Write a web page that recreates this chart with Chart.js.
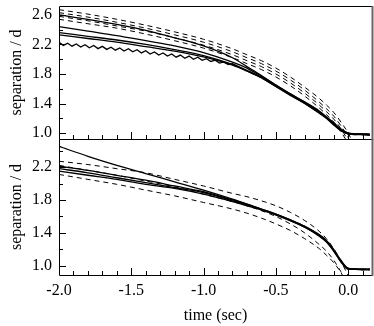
<!DOCTYPE html>
<html>
<head>
<meta charset="utf-8">
<script src="https://cdn.jsdelivr.net/npm/chart.js@4.4.1/dist/chart.umd.min.js"></script>
<style>
  html, body { margin: 0; padding: 0; background: #fff; }
  #wrap { position: relative; width: 374px; height: 326px; }
  #wrap canvas { position: absolute; left: 0; top: 0; }
</style>
</head>
<body>
<div id="wrap">
  <canvas id="topChart" width="374" height="326"></canvas>
  <canvas id="bottomChart" width="374" height="326"></canvas>
</div>
<script>
// common time grid (sec)
const T = [-2.0, -1.8, -1.6, -1.4, -1.2, -1.0, -0.8, -0.7, -0.6, -0.5, -0.4, -0.3, -0.2, -0.15, -0.1, -0.05, 0.0, 0.05, 0.1, 0.15];

// top panel, measured (solid)
const topS1 = [2.60, 2.54, 2.47, 2.39, 2.29, 2.18, 2.02, 1.90, 1.78, 1.65, 1.53, 1.42, 1.29, 1.21, 1.13, 1.05, 1.00, 0.99, 0.99, 0.98];
const topS2 = [2.44, 2.38, 2.32, 2.25, 2.18, 2.09, 1.96, 1.88, 1.77, 1.65, 1.53, 1.42, 1.30, 1.22, 1.14, 1.05, 1.00, 0.99, 0.98, 0.99];
const topS3 = [2.36, 2.31, 2.26, 2.20, 2.13, 2.05, 1.93, 1.85, 1.76, 1.64, 1.52, 1.41, 1.28, 1.20, 1.12, 1.04, 0.99, 0.99, 0.98, 0.98];
const topS4 = [2.33, 2.28, 2.23, 2.17, 2.11, 2.03, 1.92, 1.84, 1.75, 1.63, 1.52, 1.40, 1.28, 1.21, 1.12, 1.04, 0.99, 0.98, 0.99, 0.98];
// the wavy lower trace
const zigTime = [-2.00, -1.97, -1.94, -1.91, -1.88, -1.85, -1.82, -1.79, -1.76, -1.73, -1.70, -1.67, -1.64, -1.61, -1.58, -1.55, -1.52, -1.49, -1.46, -1.43, -1.40,
  -1.37, -1.34, -1.31, -1.28, -1.25, -1.22, -1.19, -1.16, -1.13, -1.10, -1.07, -1.04, -1.01, -0.98, -0.95, -0.92, -0.89, -0.86, -0.83, -0.80,
  -0.7, -0.6, -0.5, -0.4, -0.3, -0.2, -0.15, -0.1, -0.05, 0.0, 0.05, 0.1, 0.15];
const zigValues = [2.228, 2.187, 2.217, 2.176, 2.206, 2.165, 2.196, 2.154, 2.185, 2.143, 2.174, 2.133, 2.163, 2.122, 2.152, 2.111, 2.142, 2.100, 2.128, 2.085, 2.114,
  2.070, 2.099, 2.056, 2.085, 2.042, 2.070, 2.027, 2.056, 2.013, 2.042, 1.999, 2.027, 1.984, 2.008, 1.969, 1.987, 1.948, 1.964, 1.929, 1.941,
  1.84, 1.75, 1.63, 1.51, 1.40, 1.27, 1.20, 1.11, 1.03, 0.99, 0.98, 0.98, 0.97];

// top panel, model (dashed)
const topD1 = [2.67, 2.61, 2.54, 2.46, 2.37, 2.27, 2.14, 2.06, 1.98, 1.88, 1.76, 1.62, 1.47, 1.38, 1.28, 1.15, 1.00, 0.80, null, null];
const topD2 = [2.63, 2.57, 2.50, 2.42, 2.33, 2.23, 2.10, 2.02, 1.94, 1.84, 1.72, 1.58, 1.42, 1.33, 1.23, 1.10, 0.94, 0.75, null, null];
const topD3 = [2.58, 2.52, 2.45, 2.38, 2.29, 2.19, 2.06, 1.98, 1.90, 1.80, 1.68, 1.54, 1.38, 1.29, 1.19, 1.06, 0.90, null, null, null];
const topD4 = [2.54, 2.48, 2.42, 2.34, 2.25, 2.15, 2.02, 1.94, 1.86, 1.76, 1.64, 1.50, 1.34, 1.25, 1.15, 1.02, 0.86, null, null, null];

// bottom panel, measured (solid)
const botS1 = [2.45, 2.33, 2.22, 2.12, 2.02, 1.92, 1.81, 1.75, 1.69, 1.63, 1.56, 1.48, 1.38, 1.31, 1.20, 1.07, 0.97, 0.96, 0.96, 0.96];
const botS2 = [2.21, 2.16, 2.10, 2.04, 1.97, 1.90, 1.80, 1.75, 1.69, 1.63, 1.56, 1.48, 1.37, 1.30, 1.19, 1.06, 0.97, 0.96, 0.96, 0.95];
const botS3 = [2.18, 2.13, 2.07, 2.01, 1.95, 1.89, 1.79, 1.74, 1.68, 1.62, 1.55, 1.47, 1.37, 1.30, 1.19, 1.05, 0.97, 0.96, 0.96, 0.96];
const botS4 = [2.15, 2.10, 2.05, 1.99, 1.94, 1.87, 1.78, 1.73, 1.68, 1.62, 1.55, 1.47, 1.36, 1.29, 1.18, 1.05, 0.96, 0.96, 0.95, 0.96];

// bottom panel, model (dashed)
const botD1 = [2.27, 2.23, 2.18, 2.13, 2.05, 1.97, 1.88, 1.84, 1.79, 1.73, 1.65, 1.55, 1.42, 1.33, 1.21, 1.06, 0.88, null, null, null];
const botD2 = [2.22, 2.16, 2.10, 2.03, 1.96, 1.87, 1.78, 1.73, 1.67, 1.60, 1.51, 1.40, 1.26, 1.18, 1.07, 0.93, 0.78, null, null, null];
const botD3 = [2.11, 2.05, 1.99, 1.92, 1.85, 1.77, 1.69, 1.64, 1.58, 1.51, 1.43, 1.33, 1.21, 1.13, 1.04, 0.92, 0.76, null, null, null];

// ticks
const xTicks = [-2.0, -1.5, -1.0, -0.5, 0.0];
const xMinorTicks = [-1.9, -1.8, -1.7, -1.6, -1.4, -1.3, -1.2, -1.1, -0.9, -0.8, -0.7, -0.6, -0.4, -0.3, -0.2, -0.1, 0.1];
const topYTicks = [1.0, 1.4, 1.8, 2.2, 2.6];
const topYMinor = [1.2, 1.6, 2.0, 2.4];
const botYTicks = [1.0, 1.4, 1.8, 2.2];
const botYMinor = [1.2, 1.6, 2.0, 2.4];

const serif = { family: '"Liberation Serif", "DejaVu Serif", serif', size: 16 };

function line(times, values, dashed) {
    return {
        data: times.map((t, i) => ({ x: t, y: values[i] })),
        borderColor: '#000',
        borderWidth: dashed ? 1 : 1.3,
        borderDash: dashed ? [5, 4] : [],
        pointRadius: 0,
        cubicInterpolationMode: 'monotone',
        fill: false
    };
}

// inward ticks and box around each panel
const framePlugin = {
    id: 'frame',
    afterDraw(chart, args, opts) {
        const ctx = chart.ctx;
        const a = chart.chartArea;
        const xs = chart.scales.x, ys = chart.scales.y;
        ctx.save();
        ctx.strokeStyle = '#000';
        ctx.lineWidth = 1;
        ctx.beginPath();
        const xTick = (v, len) => {
            const px = Math.round(xs.getPixelForValue(v)) + 0.5;
            ctx.moveTo(px, a.bottom);
            ctx.lineTo(px, a.bottom - len);
        };
        const yTick = (v, len) => {
            const py = Math.round(ys.getPixelForValue(v)) + 0.5;
            ctx.moveTo(a.left, py);
            ctx.lineTo(a.left + len, py);
        };
        xTicks.forEach(v => xTick(v, 7));
        xMinorTicks.forEach(v => xTick(v, 4));
        opts.yMajor.forEach(v => yTick(v, 7));
        opts.yMinor.forEach(v => { if (v > ys.min && v < ys.max) yTick(v, 4); });
        ctx.stroke();

        ctx.beginPath();
        ctx.moveTo(a.right, a.top + 0.5);
        ctx.lineTo(a.left + 0.5, a.top + 0.5);
        ctx.lineTo(a.left + 0.5, a.bottom + 0.5);
        ctx.lineTo(a.right, a.bottom + 0.5);
        ctx.stroke();

        ctx.strokeStyle = '#666';
        ctx.lineWidth = 2;
        ctx.beginPath();
        ctx.moveTo(a.right + 0.5, a.top);
        ctx.lineTo(a.right + 0.5, a.bottom + 1);
        ctx.stroke();
        ctx.restore();
    }
};

function yScale(min, max, ticks) {
    return {
        type: 'linear',
        min: min, max: max,
        afterBuildTicks: s => { s.ticks = ticks.map(v => ({ value: v })); },
        afterFit: s => { s.width = 59; s.paddingTop = 0; s.paddingBottom = 0; },
        grid: { display: false, drawTicks: false },
        border: { display: false },
        ticks: { color: '#000', font: serif, padding: 7, autoSkip: false, callback: v => v.toFixed(1) },
        title: { display: true, text: 'separation / d', color: '#000', font: serif, padding: { top: 7, bottom: 0 } }
    };
}

new Chart(document.getElementById('topChart'), {
    type: 'line',
    data: {
        datasets: [
            line(T, topD1, true), line(T, topD2, true), line(T, topD3, true), line(T, topD4, true),
            line(T, topS1, false), line(T, topS2, false), line(T, topS3, false), line(T, topS4, false),
            Object.assign(line(zigTime, zigValues, false), { cubicInterpolationMode: 'default', tension: 0 })
        ]
    },
    options: {
        responsive: false,
        animation: false,
        layout: { padding: { left: 0, top: 6, right: 2, bottom: 187 } },
        plugins: {
            legend: { display: false },
            tooltip: { enabled: false },
            frame: { yMajor: topYTicks, yMinor: topYMinor }
        },
        scales: {
            x: { type: 'linear', min: -2.0, max: 0.165, display: false },
            y: yScale(0.92, 2.72, topYTicks)
        }
    },
    plugins: [framePlugin]
});

new Chart(document.getElementById('bottomChart'), {
    type: 'line',
    data: {
        datasets: [
            line(T, botD1, true), line(T, botD2, true), line(T, botD3, true),
            line(T, botS1, false), line(T, botS2, false), line(T, botS3, false), line(T, botS4, false)
        ]
    },
    options: {
        responsive: false,
        animation: false,
        layout: { padding: { left: 0, top: 139, right: 2, bottom: 0 } },
        plugins: {
            legend: { display: false },
            tooltip: { enabled: false },
            frame: { yMajor: botYTicks, yMinor: botYMinor }
        },
        scales: {
            x: {
                type: 'linear',
                min: -2.0, max: 0.165,
                afterBuildTicks: s => { s.ticks = xTicks.map(v => ({ value: v })); },
                afterFit: s => { s.height = 51; s.paddingLeft = 0; s.paddingRight = 0; },
                grid: { display: false, drawTicks: false },
                border: { display: false },
                ticks: { color: '#000', font: serif, padding: 6, autoSkip: false, maxRotation: 0, callback: v => v.toFixed(1) },
                title: { display: true, text: 'time (sec)', color: '#000', font: serif, padding: { top: 0, bottom: 1 } }
            },
            y: yScale(0.89, 2.54, botYTicks)
        }
    },
    plugins: [framePlugin]
});
</script>
</body>
</html>
